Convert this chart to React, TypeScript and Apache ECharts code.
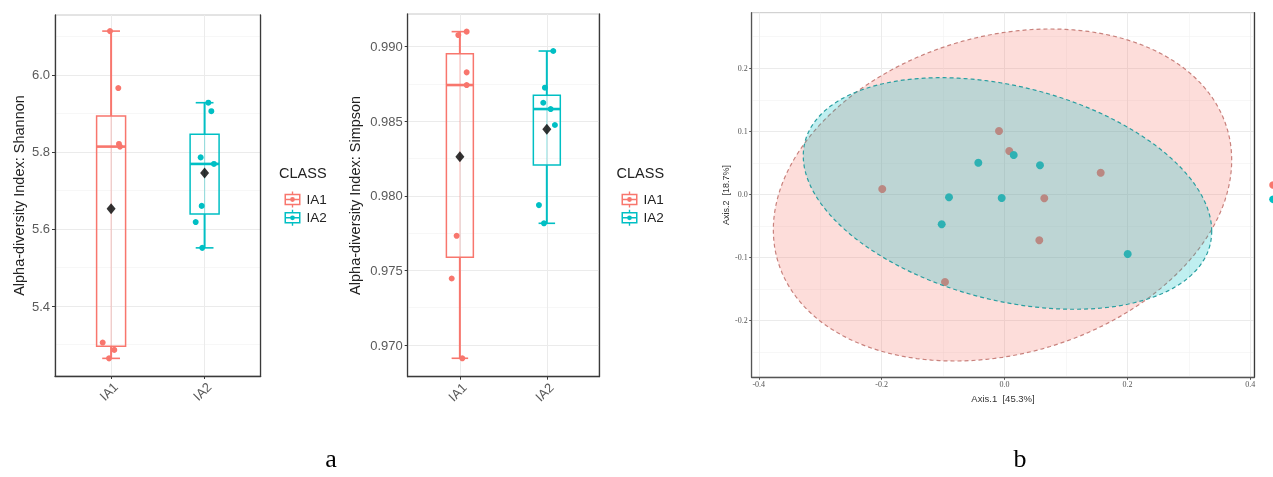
import React, { useEffect, useRef } from "react";
import * as echarts from "echarts";

// ---------- data ----------
const groups = ["IA1", "IA2"];
const groupColors = ["#F8766D", "#00BFC4"];

// Alpha diversity: Shannon (values + horizontal jitter in category units)
const shannonIA1 = [6.114, 5.966, 5.821, 5.814, 5.305, 5.286, 5.264];
const shannonIA1Jitter = [-0.012, 0.077, 0.084, 0.095, -0.09, 0.034, -0.022];
const shannonIA2 = [5.928, 5.906, 5.786, 5.769, 5.66, 5.618, 5.551];
const shannonIA2Jitter = [0.04, 0.072, -0.042, 0.1, -0.031, -0.095, -0.025];
const shannonTicks = [5.4, 5.6, 5.8, 6.0];

// Alpha diversity: Simpson
const simpsonIA1 = [0.99101, 0.99078, 0.98828, 0.98743, 0.97732, 0.97446, 0.96911];
const simpsonIA1Jitter = [0.078, -0.018, 0.078, 0.078, -0.037, -0.094, 0.028];
const simpsonIA2 = [0.98971, 0.98725, 0.98624, 0.98582, 0.98475, 0.97938, 0.97816];
const simpsonIA2Jitter = [0.074, -0.022, -0.041, 0.044, 0.093, -0.091, -0.033];
const simpsonTicks = [0.97, 0.975, 0.98, 0.985, 0.99];

// PCoA coordinates
const pcoaIA1X = [-0.009, 0.0077, 0.1565, -0.199, 0.0647, 0.0566, -0.0969];
const pcoaIA1Y = [0.1006, 0.0689, 0.0345, 0.0087, -0.006, -0.0726, -0.1387];
const pcoaIA2X = [0.0149, -0.0427, 0.0577, -0.0904, -0.0046, -0.1023, 0.2004];
const pcoaIA2Y = [0.0626, 0.0504, 0.0463, -0.0044, -0.0055, -0.0472, -0.0943];
const pcoaXTicks = [-0.4, -0.2, 0, 0.2, 0.4];
const pcoaYTicks = [-0.2, -0.1, 0, 0.1, 0.2];

// Confidence ellipses (center, half extents along axes, correlation)
const ellipseCX = [-0.0033, 0.0048];
const ellipseCY = [-0.0008, 0.0016];
const ellipseRX = [0.373, 0.3324];
const ellipseRY = [0.2631, 0.1835];
const ellipseRho = [0.21, -0.326];

// ---------- helpers ----------
function quantile(sorted: number[], p: number) {
  const h = (sorted.length - 1) * p;
  const lo = Math.floor(h);
  const hi = Math.min(lo + 1, sorted.length - 1);
  return sorted[lo] + (h - lo) * (sorted[hi] - sorted[lo]);
}
function boxStats(vals: number[]) {
  const s = [...vals].sort((a, b) => a - b);
  const q1 = quantile(s, 0.25);
  const med = quantile(s, 0.5);
  const q3 = quantile(s, 0.75);
  const iqr = q3 - q1;
  const lo = Math.min(...s.filter((v) => v >= q1 - 1.5 * iqr));
  const hi = Math.max(...s.filter((v) => v <= q3 + 1.5 * iqr));
  const mean = s.reduce((a, b) => a + b, 0) / s.length;
  return { lo, q1, med, q3, hi, mean };
}

const FONT = "Liberation Sans";

const boxIcon =
  "path://M1 2H15V12H1Z M2.3 3.3V10.7H13.7V3.3Z M1 6.4H15V7.6H1Z M7.4 0H8.6V2H7.4Z M7.4 12H8.6V14H7.4Z M5.9 7A2.1 2.1 0 1 1 10.1 7A2.1 2.1 0 1 1 5.9 7Z";

function makeBoxRender(color: string) {
  return (params: any, api: any) => {
    const x = api.value(0);
    const lo = api.value(1);
    const q1 = api.value(2);
    const med = api.value(3);
    const q3 = api.value(4);
    const hi = api.value(5);
    const c = (xx: number, yy: number) => api.coord([xx, yy]);
    const bw = 0.155;
    const cw = 0.095;
    const tl = c(x - bw, q3);
    const br = c(x + bw, q1);
    const line = (a: number[], b: number[], w: number, opacity = 1) => ({
      type: "line",
      shape: { x1: a[0], y1: a[1], x2: b[0], y2: b[1] },
      style: { stroke: color, lineWidth: w, opacity },
    });
    return {
      type: "group",
      children: [
        line(c(x, q3), c(x, hi), 2),
        line(c(x, lo), c(x, q1), 2),
        line(c(x - cw, hi), c(x + cw, hi), 1.6),
        line(c(x - cw, lo), c(x + cw, lo), 1.6),
        line(c(x, q1), c(x, q3), 1.2, 0.35),
        {
          type: "rect",
          shape: { x: tl[0], y: tl[1], width: br[0] - tl[0], height: br[1] - tl[1] },
          style: { fill: "none", stroke: color, lineWidth: 1.5 },
        },
        line(c(x - bw, med), c(x + bw, med), 2.6),
      ],
    };
  };
}

function boxPanelSeries(idx: number, sets: number[][], jitters: number[][]) {
  const out: any[] = [];
  const stats = sets.map(boxStats);
  stats.forEach((st, g) => {
    out.push({
      type: "custom",
      name: groups[g],
      xAxisIndex: idx,
      yAxisIndex: idx,
      itemStyle: { color: groupColors[g] },
      renderItem: makeBoxRender(groupColors[g]),
      encode: { x: 0, y: [1, 2, 3, 4, 5] },
      data: [[g + 1, st.lo, st.q1, st.med, st.q3, st.hi]],
      z: 2,
      silent: true,
    });
  });
  sets.forEach((vals, g) => {
    out.push({
      type: "scatter",
      name: groups[g],
      xAxisIndex: idx,
      yAxisIndex: idx,
      symbolSize: 6,
      itemStyle: { color: groupColors[g], opacity: 1 },
      data: vals.map((v, i) => [g + 1 + jitters[g][i], v]),
      z: 3,
      silent: true,
    });
  });
  out.push({
    type: "scatter",
    name: "mean",
    xAxisIndex: idx,
    yAxisIndex: idx,
    symbol: "diamond",
    symbolSize: [9, 11],
    itemStyle: { color: "#000" },
    data: stats.map((st, g) => [g + 1, st.mean]),
    z: 4,
    silent: true,
  });
  return out;
}

const axisLineStyle = { color: "#3a3a3a", width: 1.3 };

function boxXAxis(gridIndex: number) {
  return {
    type: "value",
    gridIndex,
    min: 0.4,
    max: 2.6,
    splitNumber: 2,
    axisLine: { show: true, onZero: false, lineStyle: axisLineStyle },
    axisTick: { show: true, customValues: [1, 2], length: 3, lineStyle: { color: "#3a3a3a" } },
    axisLabel: {
      customValues: [1, 2],
      formatter: (v: number) => groups[Math.round(v) - 1] ?? "",
      rotate: 45,
      margin: 4,
      verticalAlign: "top",
      fontSize: 13,
      fontFamily: FONT,
      color: "#5a5a5a",
    },
    splitLine: { show: true, lineStyle: { color: "#EBEBEB", width: 1 } },
  };
}

function boxYAxis(
  gridIndex: number,
  min: number,
  max: number,
  ticks: number[],
  digits: number,
  name: string,
  nameGap: number
) {
  return {
    type: "value",
    gridIndex,
    min,
    max,
    axisLine: { show: true, onZero: false, lineStyle: axisLineStyle },
    axisTick: { show: true, customValues: ticks, length: 3, lineStyle: { color: "#3a3a3a" } },
    axisLabel: {
      customValues: ticks,
      formatter: (v: number) => v.toFixed(digits),
      fontSize: 13,
      fontFamily: FONT,
      color: "#5a5a5a",
      margin: 5,
    },
    splitLine: { show: true, lineStyle: { color: "#EBEBEB", width: 1 } },
    minorTick: { show: false, splitNumber: 2 },
    minorSplitLine: { show: true, lineStyle: { color: "#F4F4F4", width: 0.7 } },
    name,
    nameLocation: "middle",
    nameGap,
    nameTextStyle: { fontSize: 14.5, fontFamily: FONT, color: "#222" },
  };
}

function borderAxis(gridIndex: number) {
  return {
    type: "value",
    gridIndex,
    position: "right",
    min: 0,
    max: 1,
    axisLine: { show: true, onZero: false, lineStyle: axisLineStyle },
    axisTick: { show: false },
    axisLabel: { show: false },
    splitLine: { show: false },
  };
}

function ellipseRender(params: any, api: any) {
  const i = params.dataIndex;
  const pts: number[][] = [];
  const n = 180;
  const s = Math.sqrt(1 - ellipseRho[i] * ellipseRho[i]);
  for (let k = 0; k < n; k++) {
    const t = (k / n) * Math.PI * 2;
    const x = ellipseCX[i] + ellipseRX[i] * Math.cos(t);
    const y = ellipseCY[i] + ellipseRY[i] * (ellipseRho[i] * Math.cos(t) + s * Math.sin(t));
    pts.push(api.coord([x, y]));
  }
  const fills = ["rgba(248,118,109,0.25)", "rgba(0,191,196,0.25)"];
  const strokes = ["#C9827D", "#2A9FA1"];
  return {
    type: "polygon",
    shape: { points: pts },
    style: { fill: fills[i], stroke: strokes[i], lineWidth: 1.2, lineDash: [4, 3] },
  };
}

const legendBase = {
  data: groups,
  orient: "vertical",
  top: 186.5,
  itemWidth: 18,
  itemHeight: 16,
  itemGap: 2.3,
  icon: boxIcon,
  textStyle: { fontSize: 13.5, fontFamily: FONT, color: "#222" },
  selectedMode: false,
};

export default function App() {
  const ref = useRef<HTMLDivElement>(null);
  useEffect(() => {
    if (!ref.current) return;
    const chart = echarts.init(ref.current, undefined, { renderer: "svg" });
    const option: any = {
      animation: false,
      textStyle: { fontFamily: FONT },
      grid: [
        { left: 55, top: 15, width: 205.7, height: 361, show: true, borderColor: "#C8C8C8", borderWidth: 1 },
        { left: 407.7, top: 14, width: 191.3, height: 362.7, show: true, borderColor: "#C8C8C8", borderWidth: 1 },
        { left: 751.7, top: 12.7, width: 502.6, height: 364.6, show: true, borderColor: "#C8C8C8", borderWidth: 1 },
      ],
      xAxis: [
        boxXAxis(0),
        boxXAxis(1),
        {
          type: "value",
          gridIndex: 2,
          min: -0.4115,
          max: 0.4065,
          axisLine: { show: true, onZero: false, lineStyle: { color: "#555", width: 1.3 } },
          axisTick: { show: true, customValues: pcoaXTicks, length: 2.5, lineStyle: { color: "#555" } },
          axisLabel: {
            customValues: pcoaXTicks,
            formatter: (v: number) => v.toFixed(1),
            fontSize: 8,
            fontFamily: "Liberation Serif",
            color: "#555",
            margin: 3,
          },
          splitLine: { show: true, lineStyle: { color: "#EBEBEB", width: 1 } },
          minorTick: { show: false, splitNumber: 2 },
          minorSplitLine: { show: true, lineStyle: { color: "#F4F4F4", width: 0.7 } },
          name: "Axis.1  [45.3%]",
          nameLocation: "middle",
          nameGap: 13,
          nameTextStyle: { fontSize: 9.5, fontFamily: FONT, color: "#333" },
        },
      ],
      yAxis: [
        boxYAxis(0, 5.2182, 6.1558, shannonTicks, 1, "Alpha-diversity Index: Shannon", 29),
        boxYAxis(1, 0.967875, 0.992192, simpsonTicks, 3, "Alpha-diversity Index: Simpson", 45),
        {
          type: "value",
          gridIndex: 2,
          min: -0.2897,
          max: 0.2881,
          axisLine: { show: true, onZero: false, lineStyle: { color: "#555", width: 1.3 } },
          axisTick: { show: true, customValues: pcoaYTicks, length: 2.5, lineStyle: { color: "#555" } },
          axisLabel: {
            customValues: pcoaYTicks,
            formatter: (v: number) => v.toFixed(1),
            fontSize: 8,
            fontFamily: "Liberation Serif",
            color: "#555",
            margin: 4,
          },
          splitLine: { show: true, lineStyle: { color: "#EBEBEB", width: 1 } },
          minorTick: { show: false, splitNumber: 2 },
          minorSplitLine: { show: true, lineStyle: { color: "#F4F4F4", width: 0.7 } },
          name: "Axis.2  [18.7%]",
          nameLocation: "middle",
          nameGap: 21,
          nameTextStyle: { fontSize: 9, fontFamily: FONT, color: "#333" },
        },
        borderAxis(0),
        borderAxis(1),
        borderAxis(2),
      ],
      legend: [
        { ...legendBase, left: 279.5 },
        { ...legendBase, left: 616.5 },
      ],
      graphic: [
        { type: "text", left: 279, top: 165, style: { text: "CLASS", fontSize: 14.5, fontFamily: FONT, fill: "#222" } },
        { type: "text", left: 616.5, top: 165, style: { text: "CLASS", fontSize: 14.5, fontFamily: FONT, fill: "#222" } },
        // legend keys of panel b, cut off by the right edge of the figure
        { type: "circle", shape: { cx: 1273, cy: 185, r: 3.8 }, style: { fill: groupColors[0] } },
        { type: "circle", shape: { cx: 1273, cy: 199.3, r: 3.8 }, style: { fill: groupColors[1] } },
        {
          type: "text",
          x: 331,
          y: 471,
          style: { text: "a", fontSize: 26, fontFamily: "Liberation Serif", fill: "#000", textAlign: "center", textVerticalAlign: "bottom" },
        },
        {
          type: "text",
          x: 1020,
          y: 471,
          style: { text: "b", fontSize: 26, fontFamily: "Liberation Serif", fill: "#000", textAlign: "center", textVerticalAlign: "bottom" },
        },
      ],
      series: [
        ...boxPanelSeries(0, [shannonIA1, shannonIA2], [shannonIA1Jitter, shannonIA2Jitter]),
        ...boxPanelSeries(1, [simpsonIA1, simpsonIA2], [simpsonIA1Jitter, simpsonIA2Jitter]),
        {
          type: "scatter",
          name: "IA1",
          xAxisIndex: 2,
          yAxisIndex: 2,
          symbolSize: 8,
          itemStyle: { color: groupColors[0], opacity: 1 },
          data: pcoaIA1X.map((x, i) => [x, pcoaIA1Y[i]]),
          z: 1,
          silent: true,
        },
        {
          type: "scatter",
          name: "IA2",
          xAxisIndex: 2,
          yAxisIndex: 2,
          symbolSize: 8,
          itemStyle: { color: groupColors[1], opacity: 1 },
          data: pcoaIA2X.map((x, i) => [x, pcoaIA2Y[i]]),
          z: 1,
          silent: true,
        },
        {
          type: "custom",
          name: "ellipses",
          xAxisIndex: 2,
          yAxisIndex: 2,
          renderItem: ellipseRender,
          data: ellipseCX.map((x, i) => [x, ellipseCY[i]]),
          encode: { x: 0, y: 1 },
          clip: false,
          z: 3,
          silent: true,
        },
      ],
    };
    chart.setOption(option);
    return () => chart.dispose();
  }, []);
  return <div ref={ref} style={{ position: "fixed", left: 0, top: 0, width: 1273, height: 477 }} />;
}
